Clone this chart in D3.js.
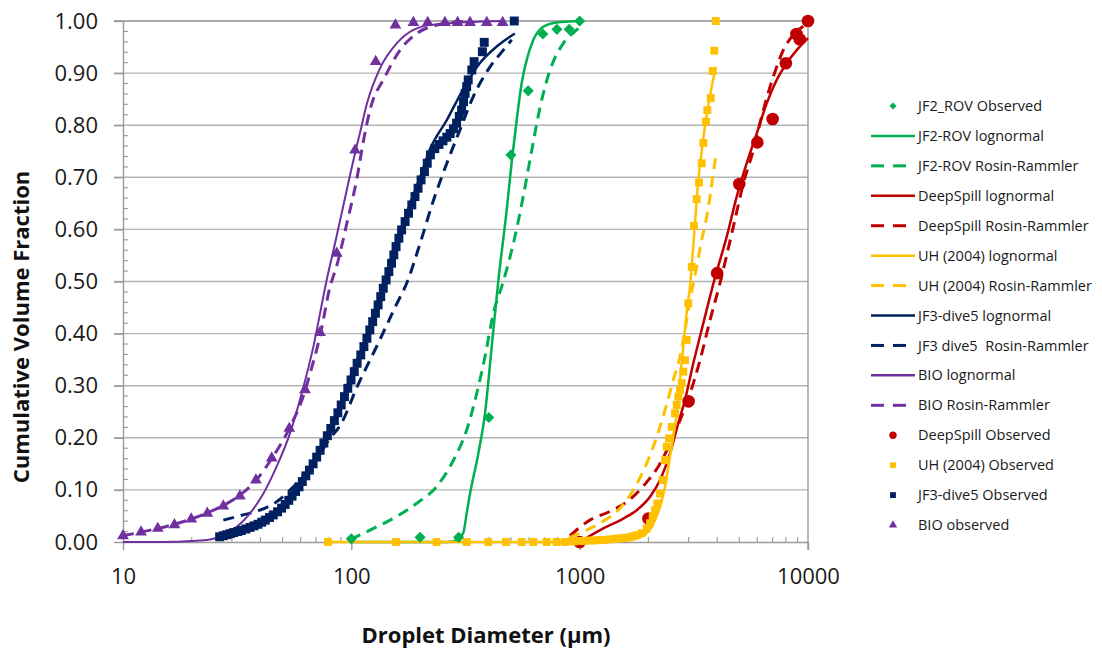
<!doctype html>
<html>
  <head>
    <meta charset="utf-8">
    <script src="https://cdnjs.cloudflare.com/ajax/libs/d3/7.8.5/d3.min.js" type="text/JavaScript"></script>
    <style>
      body { margin: 0; background: #fff; }
      svg { display: block; font-family: "Open Sans", sans-serif; }
    </style>
  </head>
  <body>
    <svg width="1102" height="650"></svg>
    <script>
        // axis ticks
        var xTicks = [10, 100, 1000, 10000];
        var yTicks = [0, 0.1, 0.2, 0.3, 0.4, 0.5, 0.6, 0.7, 0.8, 0.9, 1.0];

        // [diameter (um), cumulative volume fraction]
        var jf2Observed = [[100,0.006],[200,0.009],[295,0.009],[400,0.239],[500,0.743],[595,0.866],[690,0.975],[795,0.984],[900,0.984],[1000,1.0]];
        var jf2Lognormal = [[100,0],[250,0],[279,0.001],[294,0.007],[309,0.017],[320,0.055],[331,0.093],[360,0.17],[385,0.247],[412,0.375],[440,0.5],[479,0.637],[505,0.733],[530,0.81],[557,0.88],[586,0.925],[627,0.964],[693,0.989],[793,0.997],[1000,1.0]];
        var jf2Rosin = [[99,0.005],[125,0.026],[158,0.049],[193,0.074],[236,0.106],[280,0.157],[320,0.215],[354,0.285],[385,0.356],[419,0.439],[463,0.5],[520,0.585],[567,0.665],[617,0.752],[671,0.835],[742,0.906],[848,0.957],[970,0.983],[1010,0.99]];

        var deepObserved = [[1000,0],[2000,0.045],[3000,0.27],[4000,0.516],[5000,0.687],[6000,0.767],[7000,0.812],[8000,0.919],[8900,0.975],[9200,0.965],[10000,1.0]];
        var deepLognormal = [[1000,0],[1269,0.026],[1553,0.045],[1777,0.061],[2033,0.087],[2249,0.119],[2487,0.17],[2704,0.228],[2893,0.273],[3146,0.343],[3480,0.42],[3900,0.505],[4406,0.586],[4873,0.663],[5390,0.727],[5962,0.784],[6595,0.842],[7295,0.887],[8069,0.919],[8925,0.944],[10000,0.967]];
        var deepRosin = [[907,0.012],[1000,0.028],[1108,0.042],[1349,0.058],[1642,0.08],[1966,0.115],[2211,0.145],[2487,0.189],[2751,0.234],[3043,0.285],[3366,0.349],[3724,0.426],[4118,0.497],[4709,0.605],[5209,0.688],[5762,0.752],[6374,0.829],[7047,0.893],[7796,0.944],[8925,0.98],[9539,0.99]];

        var uhObserved = [[79,0],[157,0],[236,0],[320,0],[398,0],[476,0],[557,0],[627,0],[717,0],[793,0],[863,0],[938,0.001],[1003,0.002],[1054,0.002],[1108,0.003],[1163,0.003],[1222,0.004],[1284,0.004],[1349,0.005],[1417,0.006],[1488,0.007],[1563,0.008],[1642,0.009],[1708,0.011],[1777,0.013],[1869,0.017],[1966,0.026],[2033,0.036],[2089,0.049],[2138,0.061],[2188,0.074],[2249,0.093],[2311,0.119],[2365,0.157],[2406,0.183],[2462,0.199],[2530,0.221],[2616,0.247],[2661,0.263],[2704,0.279],[2751,0.292],[2799,0.305],[2844,0.327],[2893,0.349],[2943,0.388],[2991,0.458],[3096,0.528],[3167,0.607],[3255,0.658],[3332,0.69],[3424,0.727],[3480,0.766],[3576,0.807],[3624,0.829],[3750,0.852],[3826,0.904],[3888,0.943],[3944,1.0]];
        var uhLognormal = [[79,0],[1000,0],[1400,0.001],[1650,0.004],[1777,0.007],[1880,0.011],[1966,0.017],[2060,0.028],[2138,0.042],[2249,0.068],[2365,0.106],[2487,0.164],[2571,0.202],[2661,0.247],[2751,0.311],[2844,0.375],[2961,0.452],[3043,0.49],[3110,0.54],[3200,0.612],[3300,0.69],[3424,0.75],[3540,0.8],[3700,0.85],[3830,0.885],[3944,0.912]];
        var uhRosin = [[900,0.008],[1038,0.02],[1269,0.04],[1502,0.065],[1718,0.1],[1966,0.151],[2175,0.202],[2365,0.253],[2571,0.311],[2751,0.356],[2893,0.407],[3043,0.464],[3167,0.503],[3308,0.545],[3424,0.58],[3601,0.624],[3724,0.663],[3848,0.708],[3944,0.74]];

        var jf3Observed = [[26.5,0.010],[27.5,0.012],[28.5,0.014],[29.5,0.016],[30.5,0.018],[31.8,0.020],[33,0.022],[34.5,0.025],[36,0.028],[37.5,0.031],[39,0.034],[40.5,0.038],[42,0.042],[43.8,0.047],[45.5,0.052],[47.5,0.058],[49.5,0.065],[51.3,0.072],[53.2,0.080],[55,0.088],[57,0.097],[59,0.106],[61,0.116],[63.2,0.127],[65.5,0.138],[68,0.150],[70.5,0.163],[73,0.176],[75.8,0.190],[78.5,0.204],[81.3,0.218],[84.3,0.233],[87.3,0.248],[90.3,0.263],[93.3,0.279],[96.5,0.295],[99.7,0.311],[103,0.327],[106,0.343],[110,0.359],[113.5,0.375],[117,0.391],[120.5,0.407],[124,0.423],[127.5,0.439],[131,0.455],[134.5,0.471],[138,0.487],[142,0.503],[146,0.519],[150,0.535],[153.5,0.551],[157,0.567],[161.5,0.583],[166,0.599],[172,0.615],[178,0.631],[184,0.647],[190,0.663],[196,0.679],[202,0.695],[209,0.711],[215,0.727],[222,0.743],[232,0.755],[242,0.763],[252,0.770],[262,0.777],[271,0.784],[280,0.793],[289,0.804],[297,0.817],[304,0.829],[310,0.845],[315,0.861],[320,0.874],[325,0.887],[337,0.906],[345,0.922],[375,0.941],[382,0.959],[517,1.0]];
        var jf3Lognormal = [[26.5,0.01],[33.6,0.022],[39.8,0.033],[47,0.055],[55,0.088],[61.6,0.119],[70.5,0.164],[80.7,0.215],[92.2,0.279],[105.6,0.349],[117,0.391],[133,0.458],[150,0.535],[166,0.6],[181,0.65],[200,0.7],[220,0.752],[262,0.81],[308,0.868],[365,0.919],[433,0.951],[520,0.976]];
        var jf3Rosin = [[27.5,0.042],[33.6,0.052],[39.8,0.061],[47,0.077],[54,0.1],[62,0.127],[72,0.165],[80,0.197],[90,0.226],[106,0.298],[131,0.381],[156,0.452],[176,0.5],[200,0.573],[229,0.656],[262,0.727],[299,0.791],[342,0.855],[405,0.912],[463,0.944],[504,0.964]];

        var bioObserved = [[10,0.012],[12,0.019],[14.2,0.026],[16.8,0.033],[19.9,0.044],[23.4,0.055],[27.5,0.069],[32.5,0.088],[38.2,0.119],[44.8,0.161],[53.5,0.218],[62.7,0.292],[72.9,0.402],[86.3,0.554],[103.8,0.752],[127.9,0.922],[156,0.992],[187,0.997],[216,0.997],[257,0.997],[292,0.997],[331,0.997],[392,0.997],[460,0.997]];
        var bioLognormal = [[10,0],[15,0],[20,0.002],[24,0.005],[26.6,0.01],[31.5,0.029],[36,0.055],[41.2,0.093],[47.1,0.145],[53.9,0.209],[60.6,0.285],[68.2,0.375],[78,0.503],[85,0.575],[92.2,0.645],[103.8,0.746],[109.2,0.786],[116.8,0.84],[133.5,0.909],[158,0.957],[187,0.983],[236.5,0.994],[460,1.0]];
        var bioRosin = [[10,0.012],[12,0.019],[14.2,0.026],[16.8,0.034],[19.9,0.044],[23.4,0.056],[27.5,0.07],[32.5,0.09],[38.2,0.118],[44.8,0.16],[53.5,0.218],[62.7,0.29],[66,0.324],[72.9,0.395],[80.7,0.49],[86.3,0.53],[95.4,0.61],[106,0.70],[113,0.77],[120.7,0.829],[140.4,0.893],[163.4,0.944],[193.3,0.976],[236.5,0.992],[331,1.0]];

        var legendLabels = ["JF2_ROV Observed", "JF2-ROV lognormal", "JF2-ROV Rosin-Rammler",
            "DeepSpill lognormal", "DeepSpill Rosin-Rammler", "UH (2004) lognormal", "UH (2004) Rosin-Rammler",
            "JF3-dive5 lognormal", "JF3 dive5  Rosin-Rammler", "BIO lognormal", "BIO Rosin-Rammler",
            "DeepSpill Observed", "UH (2004) Observed", "JF3-dive5 Observed", "BIO observed"];

        var green = "#00B050", red = "#C00000", gold = "#FFC000", navy = "#002060", purple = "#7030A0";

        var fits = [
            {data: jf2Lognormal, color: green, dash: null, w: 2.5},
            {data: jf2Rosin, color: green, dash: "11,7", w: 3},
            {data: deepLognormal, color: red, dash: null, w: 2.5},
            {data: deepRosin, color: red, dash: "11,7", w: 3},
            {data: uhLognormal, color: gold, dash: null, w: 2.5},
            {data: uhRosin, color: gold, dash: "11,7", w: 3},
            {data: jf3Lognormal, color: navy, dash: null, w: 2.5},
            {data: jf3Rosin, color: navy, dash: "11,7", w: 3},
            {data: bioLognormal, color: purple, dash: null, w: 2},
            {data: bioRosin, color: purple, dash: "11,7", w: 3}
        ];
        var observed = [
            {data: jf2Observed, color: green, shape: "diamond", size: 62},
            {data: deepObserved, color: red, shape: "circle", size: 125},
            {data: uhObserved, color: gold, shape: "square", size: 62},
            {data: jf3Observed, color: navy, shape: "square", size: 80},
            {data: bioObserved, color: purple, shape: "triangle", size: 60}
        ];
        var legendKeys = [
            {marker: "diamond", color: green}, {color: green}, {color: green, dash: true},
            {color: red}, {color: red, dash: true}, {color: gold}, {color: gold, dash: true},
            {color: navy}, {color: navy, dash: true}, {color: purple}, {color: purple, dash: true},
            {marker: "circle", color: red}, {marker: "square", color: gold},
            {marker: "square", color: navy}, {marker: "triangle", color: purple}
        ];
        var legendSizes = {diamond: 26, circle: 42, square: 34, triangle: 30};

        var svg = d3.select("svg");
        var x = d3.scaleLog().domain([10, 10000]).range([123, 808]);
        var y = d3.scaleLinear().domain([0, 1]).range([542, 21]);

        function symbolPath(shape, size) {
            var t = {diamond: d3.symbolSquare, circle: d3.symbolCircle, square: d3.symbolSquare, triangle: d3.symbolTriangle}[shape];
            return d3.symbol().type(t).size(size)();
        }

        // gridlines
        svg.append("g").selectAll("line")
            .data(yTicks.filter(d => d > 0))
            .enter().append("line")
                .attr("x1", 114).attr("x2", x(10000))
                .attr("y1", d => y(d)).attr("y2", d => y(d))
                .attr("stroke", d => d === 1 ? "#8f8f8f" : "#b3b3b3")
                .attr("stroke-width", 1.4);
        svg.append("line")
            .attr("x1", x(10000)).attr("x2", x(10000))
            .attr("y1", y(1)).attr("y2", y(0) + 8)
            .attr("stroke", "#9a9a9a").attr("stroke-width", 1.4);

        // minor ticks
        var yMinor = d3.range(1, 50).map(i => i / 50).filter(d => Math.round(d * 50) % 5 !== 0);
        svg.append("g").selectAll("line")
            .data(yMinor).enter().append("line")
                .attr("x1", x(10)).attr("x2", x(10) + 5)
                .attr("y1", d => y(d)).attr("y2", d => y(d))
                .attr("stroke", "#a0a0a0").attr("stroke-width", 1.2);
        var xMinor = [];
        [10, 100, 1000].forEach(b => { for (var k = 2; k < 10; k++) xMinor.push(b * k); });
        svg.append("g").selectAll("line")
            .data(xMinor).enter().append("line")
                .attr("x1", d => x(d)).attr("x2", d => x(d))
                .attr("y1", y(0)).attr("y2", y(0) - 5)
                .attr("stroke", "#a0a0a0").attr("stroke-width", 1.2);

        // axes
        var yAxis = svg.append("g")
            .attr("transform", "translate(" + x(10) + ",0)")
            .call(d3.axisLeft(y).tickValues(yTicks).tickFormat(d3.format(".2f")).tickSize(9).tickSizeOuter(0).tickPadding(16));
        var xAxis = svg.append("g")
            .attr("transform", "translate(0," + y(0) + ")")
            .call(d3.axisBottom(x).tickValues(xTicks).tickFormat(d3.format("d")).tickSize(8).tickSizeOuter(0).tickPadding(18));
        [yAxis, xAxis].forEach(a => {
            a.select(".domain").attr("stroke", "#9a9a9a").attr("stroke-width", 1.4);
            a.selectAll(".tick line").attr("stroke", "#9a9a9a").attr("stroke-width", 1.4);
            a.selectAll("text").attr("font-size", 22).attr("fill", "#1a1a1a").attr("font-family", "Open Sans, sans-serif");
        });

        // axis titles
        svg.append("text")
            .attr("x", 486).attr("y", 643)
            .attr("text-anchor", "middle").attr("font-size", 22).attr("font-weight", "bold").attr("fill", "#111")
            .text("Droplet Diameter (µm)");
        svg.append("text")
            .attr("transform", "translate(29,327) rotate(-90)")
            .attr("text-anchor", "middle").attr("font-size", 22).attr("font-weight", "bold").attr("fill", "#111")
            .text("Cumulative Volume Fraction");

        // fitted curves
        var line = d3.line().x(d => x(d[0])).y(d => y(d[1])).curve(d3.curveMonotoneX);
        svg.append("g").selectAll("path")
            .data(fits).enter().append("path")
                .attr("d", d => line(d.data))
                .attr("fill", "none")
                .attr("stroke", d => d.color)
                .attr("stroke-width", d => d.w)
                .attr("stroke-dasharray", d => d.dash);

        // observed points
        observed.forEach(s => {
            svg.append("g").selectAll("path")
                .data(s.data).enter().append("path")
                    .attr("d", symbolPath(s.shape, s.size))
                    .attr("transform", d => "translate(" + x(d[0]) + "," + y(d[1]) + ")" + (s.shape === "diamond" ? " rotate(45)" : ""))
                    .attr("fill", s.color);
        });

        // legend
        var lg = svg.append("g").attr("font-size", 14.5).attr("fill", "#1a1a1a");
        legendLabels.forEach((label, i) => {
            var k = legendKeys[i];
            var ly = 106 + i * 29.93;
            if (k.marker) {
                lg.append("path")
                    .attr("d", symbolPath(k.marker, legendSizes[k.marker]))
                    .attr("transform", "translate(893," + ly + ")" + (k.marker === "diamond" ? " rotate(45)" : ""))
                    .attr("fill", k.color);
            } else if (k.dash) {
                lg.append("line").attr("x1", 871).attr("x2", 884).attr("y1", ly).attr("y2", ly)
                    .attr("stroke", k.color).attr("stroke-width", 3);
                lg.append("line").attr("x1", 893).attr("x2", 906).attr("y1", ly).attr("y2", ly)
                    .attr("stroke", k.color).attr("stroke-width", 3);
            } else {
                lg.append("line").attr("x1", 871).attr("x2", 915).attr("y1", ly).attr("y2", ly)
                    .attr("stroke", k.color).attr("stroke-width", 2.5);
            }
            lg.append("text")
                .attr("x", 918).attr("y", ly).attr("dy", "0.35em")
                .style("white-space", "pre")
                .text(label);
        });
    </script>
  </body>
</html>
